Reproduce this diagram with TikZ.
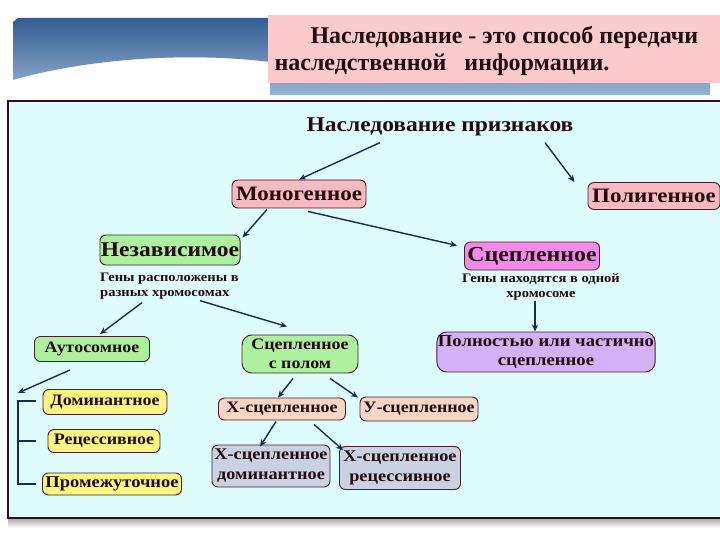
\documentclass[tikz,border=0pt]{standalone}
\usepackage{fontspec}
\setmainfont{Liberation Serif}
\newfontfamily\boxfont[FakeStretch=1.12]{Liberation Serif}
\usetikzlibrary{arrows.meta,positioning}
\definecolor{framebg}{RGB}{222,252,254}
\definecolor{frameline}{RGB}{60,10,20}
\definecolor{boxline}{RGB}{70,30,40}
\definecolor{ink}{RGB}{35,10,15}
\definecolor{arrowblue}{RGB}{25,40,85}
\definecolor{pinkfill}{RGB}{246,186,192}
\definecolor{greenfill}{RGB}{172,240,160}
\definecolor{magfill}{RGB}{240,140,232}
\definecolor{lavfill}{RGB}{214,176,246}
\definecolor{yellowfill}{RGB}{250,244,130}
\definecolor{peachfill}{RGB}{248,214,198}
\definecolor{grayfill}{RGB}{202,210,226}
\definecolor{bannerdark}{RGB}{52,92,145}
\definecolor{bannerlight}{RGB}{150,180,212}
\definecolor{headpink}{RGB}{250,202,204}
\begin{document}
\begin{tikzpicture}[
    x=1pt, y=-1pt,
    field/.style={draw=boxline, rounded corners=6pt, line width=0.9pt, inner sep=1pt,
      align=center, text=ink, font=\boxfont\bfseries\fontsize{16}{19}\selectfont},
    big/.style={font=\boxfont\bfseries\fontsize{#1}{#1}\selectfont},
    note/.style={inner sep=0pt, text=ink, font=\boxfont\bfseries\fontsize{13}{15}\selectfont},
    link/.style={-{Stealth[length=7pt,width=6pt]}, line width=1.4pt, draw=arrowblue}
]
\useasboundingbox (0,0) rectangle (720,540);

% banner
\shade[top color=bannerdark, bottom color=bannerlight]
  (18,18) -- (710,18) -- (710,95) -- (270,95) -- (270,62)
  .. controls (190,52) and (90,58) .. (13,80) -- (13,22) -- cycle;
\fill[headpink] (268,15) rectangle (720,83);
\node[anchor=west, font=\bfseries\fontsize{24}{27}\selectfont, align=left, text=ink] (head) at (271,51)
  {\hspace{36pt}Наследование - это способ передачи\\наследственной\ \ \ информации.};

% frame
\shade[top color=gray!70, bottom color=white] (8,518) rectangle (724,528);
\draw[frameline, line width=1.8pt, fill=framebg] (8,101) rectangle (726,518);

% nodes
\node[big=21, text=ink] (title) at (440,127) {Наследование признаков};
\node[field, big=20.5, fill=pinkfill, minimum width=134pt, minimum height=28pt] (mono) at (299,194) {Моногенное};
\node[field, big=20.5, fill=pinkfill, minimum width=132pt, minimum height=27pt] (poly) at (654,196) {Полигенное};
\node[field, big=21, fill=greenfill, minimum width=140pt, minimum height=30pt] (indep) at (170,250) {Независимое};
\node[note, anchor=north west, align=left] (indepnote) at (100,273) {Гены расположены в\\разных хромосомах};
\node[field, big=21.3, fill=magfill, minimum width=135pt, minimum height=28pt] (linked) at (532,256) {Сцепленное};
\node[note, anchor=north, align=center] (linkednote) at (541,273) {Гены находятся в одной\\хромосоме};
\node[field, fill=greenfill, minimum width=115pt, minimum height=25pt] (auto) at (92,349) {Аутосомное};
\node[field, fill=greenfill, minimum width=116pt, minimum height=38pt, rounded corners=10pt] (sexl) at (300,354) {Сцепленное\\с полом};
\node[field, fill=lavfill, minimum width=218pt, minimum height=40pt, rounded corners=10pt, font=\boxfont\bfseries\fontsize{16.7}{19}\selectfont] (full) at (546,352) {Полностью или частично\\сцепленное};
\node[field, fill=yellowfill, minimum width=124pt, minimum height=25pt] (dom) at (105,402) {Доминантное};
\node[field, fill=yellowfill, minimum width=112pt, minimum height=23pt] (rec) at (104,441) {Рецессивное};
\node[field, fill=yellowfill, minimum width=139pt, minimum height=22pt, font=\boxfont\bfseries\fontsize{16.5}{19}\selectfont] (inter) at (112,484) {Промежуточное};
\node[field, fill=peachfill, minimum width=127pt, minimum height=22pt] (xl) at (282,409) {Х-сцепленное};
\node[field, fill=peachfill, minimum width=118pt, minimum height=24pt] (yl) at (419,409) {У-сцепленное};
\node[field, fill=grayfill, minimum width=118pt, minimum height=42pt, font=\boxfont\bfseries\fontsize{16.3}{20}\selectfont] (xdom) at (271,466) {Х-сцепленное\\доминантное};
\node[field, fill=grayfill, minimum width=121pt, minimum height=43pt, font=\boxfont\bfseries\fontsize{16.3}{20}\selectfont] (xrec) at (400,468) {Х-сцепленное\\рецессивное};

% bracket
\coordinate (brtop) at (18,401);
\coordinate (brbot) at (18,484);
\draw[arrowblue, line width=2pt] ([xshift=18pt]brtop) -- (brtop) -- (brbot) -- ([xshift=18pt]brbot);
\draw[arrowblue, line width=2pt] (18,441) -- (36,441);

% arrows
\draw[link] ([xshift=-60pt,yshift=-3pt]title.south) -- (mono.north);
\draw[link] ([xshift=105pt,yshift=-3pt]title.south) -- ([xshift=-13pt]poly.north west);
\draw[link] ([xshift=-32pt,yshift=-1pt]mono.south) -- ([xshift=2pt,yshift=-3pt]indep.north east);
\draw[link] ([xshift=9pt,yshift=-3pt]mono.south) -- ([xshift=-7pt,yshift=-4pt]linked.north west);
\draw[link] ([xshift=42pt,yshift=-3pt]indepnote.south west) -- ([xshift=8pt,yshift=2pt]auto.north);
\draw[link] ([xshift=100pt,yshift=-1pt]indepnote.south west) -- ([xshift=-13pt,yshift=8pt]sexl.north);
\draw[link] ([xshift=-6pt,yshift=-1pt]linkednote.south) -- ([xshift=-11pt]full.north);
\draw[link] ([xshift=-22pt,yshift=-8pt]auto.south) -- ([yshift=8pt]brtop);
\draw[link] ([xshift=-7pt,yshift=-5pt]sexl.south) -- ([xshift=-4pt]xl.north);
\draw[link] ([xshift=30pt,yshift=-5pt]sexl.south) -- ([xshift=-61pt,yshift=-1pt]yl.north);
\draw[link] ([xshift=-6pt,yshift=-1pt]xl.south) -- ([xshift=-11pt,yshift=-2pt]xdom.north);
\draw[link] ([xshift=32pt,yshift=-4pt]xl.south) -- ([xshift=-57pt,yshift=-4pt]xrec.north);
\end{tikzpicture}
\end{document}
